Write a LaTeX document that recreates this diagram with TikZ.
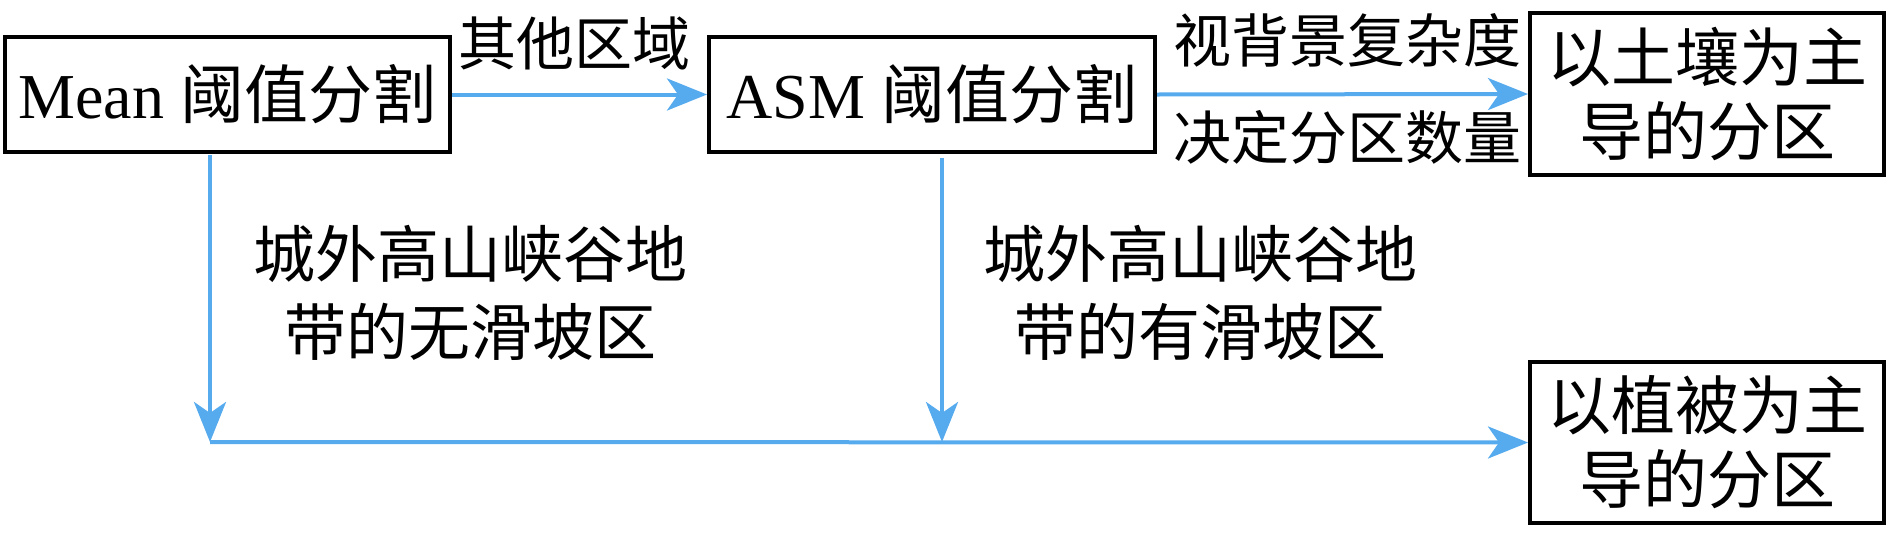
\documentclass[tikz,border=0pt]{standalone}
\usepackage{fontspec}
\setmainfont{Liberation Serif}
\newfontfamily\cjk{Noto Sans CJK SC}
\usetikzlibrary{arrows.meta,calc}
\definecolor{flowblue}{RGB}{86,170,238}
\begin{document}
\begin{tikzpicture}[x=1pt,y=-1pt,
  box/.style={draw=black,line width=4pt,inner sep=0pt,align=center,
    font=\fontsize{64}{74}\selectfont},
  arr/.style={draw=flowblue,line width=4pt,
    -{Stealth[length=40pt,width=32pt,inset=11pt]}},
  lbl/.style={inner sep=0pt,font=\cjk\fontsize{58}{70}\selectfont},
  mid/.style={inner sep=0pt,align=center,font=\cjk\fontsize{62}{78}\selectfont}]
\useasboundingbox (0,0) rectangle (1890,536);
\node[box,minimum width=445pt,minimum height=115pt] (mean) at (227.5,94.5)
  {Mean {\cjk 阈值分割}};
\node[box,minimum width=446pt,minimum height=115pt] (asm) at (932,94.5)
  {ASM {\cjk 阈值分割}};
\node[box,minimum width=354pt,minimum height=162pt,font=\cjk\fontsize{64}{74}\selectfont] (soil) at (1707,94)
  {以土壤为主\\导的分区};
\node[box,minimum width=354pt,minimum height=161pt,font=\cjk\fontsize{64}{74}\selectfont] (veg) at (1707,442.5)
  {以植被为主\\导的分区};
\coordinate (j1) at (210,442);
\coordinate (j2) at (942,442);
\draw[arr] (mean.east) -- (asm.west);
\draw[arr] (asm.east) -- (soil.west);
\draw[arr] ([yshift=-1pt]mean.south -| j1) -- (j1);
\draw[arr] ([yshift=-4pt]asm.south -| j2) -- (j2);
\draw[arr] (j1) -- (veg.west);
\node[lbl] (l1) at (574,43) {其他区域};
\node[lbl] (l2) at (1347,40) {视背景复杂度};
\node[lbl] (l3) at (1347,137) {决定分区数量};
\node[mid] (m1) at (470,293) {城外高山峡谷地\\带的无滑坡区};
\node[mid] (m2) at (1200,293) {城外高山峡谷地\\带的有滑坡区};
\end{tikzpicture}
\end{document}
